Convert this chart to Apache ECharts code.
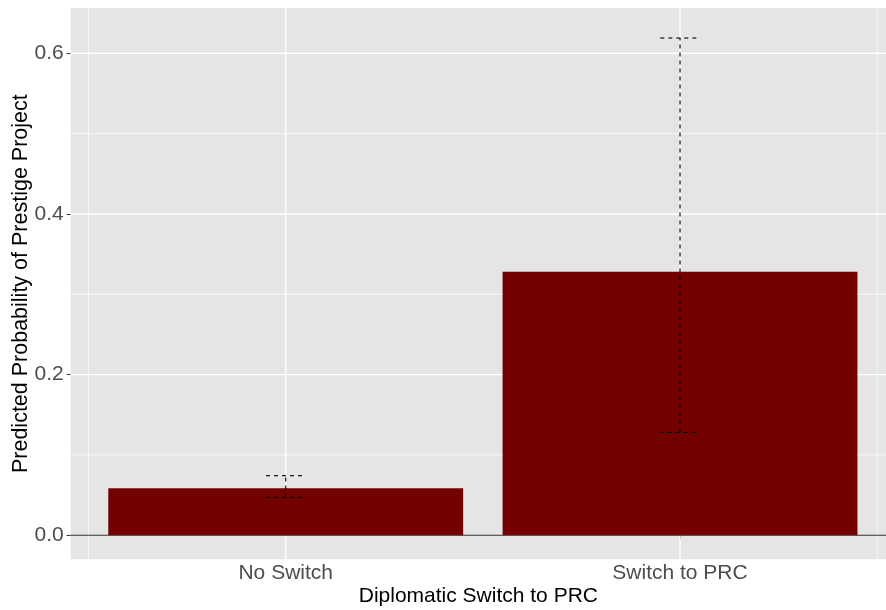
<!DOCTYPE html>
<html>
<head>
<meta charset="utf-8">
<script src="https://cdn.jsdelivr.net/npm/echarts@6/dist/echarts.min.js"></script>
<style>
html, body { margin: 0; padding: 0; background: #ffffff; }
#chart { width: 886px; height: 610px; }
</style>
</head>
<body>
<div id="chart"></div>
<script>
// Predicted probabilities with confidence bounds, one entry per category
const categories = ['No Switch', 'Switch to PRC'];
const predicted = [0.0585, 0.328];
const lowerCI = [0.047, 0.128];
const upperCI = [0.0742, 0.619];

// Axis ticks and panel grid positions
const yTickValues = [0, 0.2, 0.4, 0.6];
const yMajorGrid = [0.2, 0.4, 0.6];
const yMinorGrid = [0.1, 0.3, 0.5];
const xMinorGrid = [0.5, 2.5];

const X_MIN = 0.4547, X_MAX = 2.5224;
const Y_MIN = -0.0299, Y_MAX = 0.6564;
const BAR_HALF = 0.45;
const WHISKER_HALF = 0.05;

const xPositions = categories.map((c, i) => i + 1);

const chart = echarts.init(document.getElementById('chart'), null, { renderer: 'canvas' });

// Panel grid lines drawn through the axis scales
const gridSeries = {
  type: 'custom',
  silent: true,
  z: 1,
  data: [0],
  renderItem: function (params, api) {
    const children = [];
    const hLine = (v, w) => {
      const a = api.coord([X_MIN, v]), b = api.coord([X_MAX, v]);
      children.push({ type: 'line', shape: { x1: a[0], y1: a[1], x2: b[0], y2: b[1] },
        style: { stroke: '#ffffff', lineWidth: w } });
    };
    const vLine = (v, w) => {
      const a = api.coord([v, Y_MIN]), b = api.coord([v, Y_MAX]);
      children.push({ type: 'line', shape: { x1: a[0], y1: a[1], x2: b[0], y2: b[1] },
        style: { stroke: '#ffffff', lineWidth: w } });
    };
    yMinorGrid.forEach(v => hLine(v, 0.7));
    xMinorGrid.forEach(v => vLine(v, 0.7));
    yMajorGrid.forEach(v => hLine(v, 1.4));
    xPositions.forEach(v => vLine(v, 1.4));
    return { type: 'group', children: children };
  }
};

// Bars
const barSeries = {
  type: 'custom',
  z: 2,
  data: xPositions.map((x, i) => [x, predicted[i]]),
  encode: { x: 0, y: 1 },
  renderItem: function (params, api) {
    const x = api.value(0), y = api.value(1);
    const tl = api.coord([x - BAR_HALF, y]);
    const br = api.coord([x + BAR_HALF, 0]);
    return { type: 'rect', shape: { x: tl[0], y: tl[1], width: br[0] - tl[0], height: br[1] - tl[1] },
      style: { fill: '#740000' } };
  }
};

// Horizontal reference line at zero
const zeroLine = {
  type: 'custom',
  silent: true,
  z: 3,
  data: [0],
  renderItem: function (params, api) {
    const a = api.coord([X_MIN, 0]), b = api.coord([X_MAX, 0]);
    return { type: 'line', shape: { x1: a[0], y1: a[1], x2: b[0], y2: b[1] },
      style: { stroke: '#333333', lineWidth: 1.1 } };
  }
};

// Dashed confidence interval bars
const errorSeries = {
  type: 'custom',
  z: 4,
  data: xPositions.map((x, i) => [x, lowerCI[i], upperCI[i]]),
  encode: { x: 0, y: [1, 2] },
  renderItem: function (params, api) {
    const x = api.value(0), lo = api.value(1), hi = api.value(2);
    const style = { stroke: '#000000', lineWidth: 1.1, lineDash: [4, 4] };
    const pLo = api.coord([x, lo]), pHi = api.coord([x, hi]);
    const l1 = api.coord([x - WHISKER_HALF, hi]), r1 = api.coord([x + WHISKER_HALF, hi]);
    const l2 = api.coord([x - WHISKER_HALF, lo]), r2 = api.coord([x + WHISKER_HALF, lo]);
    return { type: 'group', children: [
      { type: 'line', shape: { x1: pLo[0], y1: pLo[1], x2: pHi[0], y2: pHi[1] }, style: style },
      { type: 'line', shape: { x1: l1[0], y1: l1[1], x2: r1[0], y2: r1[1] }, style: style },
      { type: 'line', shape: { x1: l2[0], y1: l2[1], x2: r2[0], y2: r2[1] }, style: style }
    ] };
  }
};

const font = "'Liberation Sans', Arial, sans-serif";

chart.setOption({
  animation: false,
  backgroundColor: '#ffffff',
  grid: {
    left: 70.7, right: 0, top: 8, bottom: 50.7,
    outerBoundsMode: 'none',
    containLabel: false,
    show: true, backgroundColor: '#e5e5e5', borderWidth: 0
  },
  xAxis: {
    type: 'value',
    min: X_MIN, max: X_MAX,
    name: 'Diplomatic Switch to PRC',
    nameLocation: 'middle',
    nameGap: 26,
    nameMoveOverlap: false,
    nameTextStyle: { color: '#000000', fontSize: 21, fontFamily: font },
    axisLine: { show: false },
    splitLine: { show: false },
    axisTick: { show: true, customValues: xPositions, length: 4, lineStyle: { color: '#333333', width: 1 } },
    axisLabel: {
      customValues: xPositions,
      formatter: v => categories[Math.round(v) - 1] || '',
      color: '#4d4d4d', fontSize: 21, fontFamily: font, margin: 3
    }
  },
  yAxis: {
    type: 'value',
    min: Y_MIN, max: Y_MAX,
    name: 'Predicted Probability of Prestige Project',
    nameLocation: 'middle',
    nameGap: 39,
    nameMoveOverlap: false,
    nameTextStyle: { color: '#000000', fontSize: 21.5, fontFamily: font },
    axisLine: { show: false },
    splitLine: { show: false },
    axisTick: { show: true, customValues: yTickValues, length: 4, lineStyle: { color: '#333333', width: 1 } },
    axisLabel: {
      customValues: yTickValues,
      formatter: v => v.toFixed(1),
      color: '#4d4d4d', fontSize: 21, fontFamily: font, margin: 7
    }
  },
  series: [gridSeries, barSeries, zeroLine, errorSeries]
});
</script>
</body>
</html>
